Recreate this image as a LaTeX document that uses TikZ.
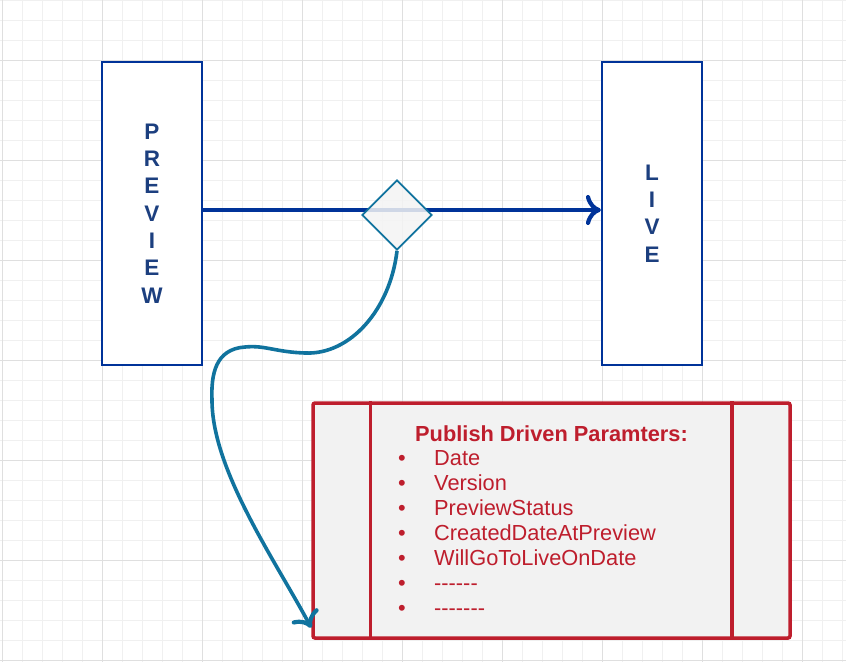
\documentclass[tikz,border=0pt]{standalone}
\usepackage{fontspec}
\setmainfont{Liberation Sans}
\usetikzlibrary{shapes.geometric,arrows.meta}
\definecolor{stageblue}{HTML}{003399}
\definecolor{stagetext}{HTML}{1C3F7F}
\definecolor{gateblue}{HTML}{10739E}
\definecolor{paramred}{HTML}{BE1E2D}
\definecolor{paramfill}{HTML}{F2F2F2}
\newcommand{\hyph}{-\kern0pt}

\begin{document}
\begin{tikzpicture}[x=1pt,y=-1pt,
 gridminor/.style={draw=gray!12,line width=0.8pt},
 gridmajor/.style={draw=gray!25,line width=0.8pt},
 stage/.style={draw=stageblue,line width=2.2pt,fill=white,minimum width=100pt,minimum height=303pt,inner sep=0pt,
  text=stagetext,align=center,font=\bfseries\fontsize{22.5}{27.3}\selectfont},
 gate/.style={diamond,draw=gateblue,line width=1.8pt,fill=gray!9,fill opacity=0.85,minimum width=70pt,minimum height=70pt,inner sep=0pt},
 flow/.style={draw=stageblue,line width=3.6pt,-{Computer Modern Rightarrow[length=15pt,width=30pt,line width=4.2pt]}},
 link/.style={draw=gateblue,line width=3.6pt,-{Computer Modern Rightarrow[length=15pt,width=30pt,line width=4.2pt]}},
 params/.style={draw=paramred,line width=3.5pt,fill=paramfill,rounded corners=2pt,minimum width=477pt,minimum height=235pt},
 paramline/.style={draw=paramred,line width=3.5pt},
 paramtext/.style={text=paramred,inner sep=0pt,font=\fontsize{21.8}{25}\selectfont},
 paramtitle/.style={paramtext,font=\bfseries\fontsize{21.8}{25}\selectfont}]
\useasboundingbox[fill=white] (0,0) rectangle (846,662);
\foreach \gx in {2,22,...,842} \draw[gridminor] (\gx,0) -- (\gx,662);
\foreach \gy in {0,20,...,660} \draw[gridminor] (0,\gy) -- (846,\gy);
\foreach \gx in {2,102,...,802} \draw[gridmajor] (\gx,0) -- (\gx,662);
\foreach \gy in {60,160,...,660} \draw[gridmajor] (0,\gy) -- (846,\gy);

\node[stage] (preview) at (152,213.5) {P\\R\\E\\V\\I\\E\\W};
\node[stage] (live) at (652,213.5) {L\\I\\V\\E};
\draw[flow] ([yshift=3.5pt]preview.east) -- ([yshift=3.5pt]live.west);
\node[gate] (gate) at (397,215) {};

\node[params] (params) at (551.5,520.5) {};
\draw[paramline] ([xshift=59pt]params.north west) -- ([xshift=59pt]params.south west);
\draw[paramline] ([xshift=-60pt]params.north east) -- ([xshift=-60pt]params.south east);
\node[paramtitle,anchor=base] (title) at (551.5,441) {Publish Driven Paramters:};
\foreach \txt [count=\i] in {Date,Version,PreviewStatus,CreatedDateAtPreview,WillGoToLiveOnDate,
  \hyph\hyph\hyph\hyph\hyph\hyph,\hyph\hyph\hyph\hyph\hyph\hyph\hyph}{
  \node[paramtext,anchor=base] (bullet\i) at (402,{440+25*\i}) {\textbullet};
  \node[paramtext,anchor=base west] (item\i) at (434,{440+25*\i}) {\txt};
}

\draw[link] (gate.south) .. controls (390,310) and (350,355) .. (305,353)
 .. controls (275,352) and (265,345) .. (245,347)
 .. controls (215,349) and (211,375) .. (212,400)
 .. controls (212,470) and (275,560) .. ([yshift=12pt]params.south west);
\end{tikzpicture}
\end{document}
